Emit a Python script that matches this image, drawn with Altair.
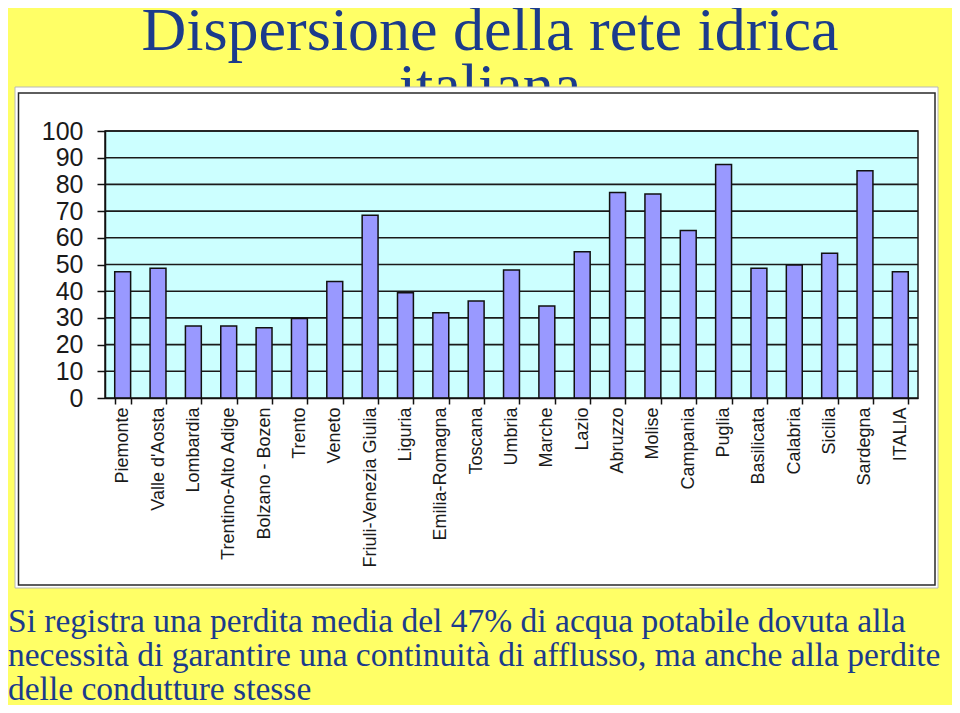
import altair as alt
import pandas as pd

regions = ["Piemonte", "Valle d'Aosta", "Lombardia", "Trentino-Alto Adige",
           "Bolzano - Bozen", "Trento", "Veneto", "Friuli-Venezia Giulia",
           "Liguria", "Emilia-Romagna", "Toscana", "Umbria", "Marche", "Lazio",
           "Abruzzo", "Molise", "Campania", "Puglia", "Basilicata", "Calabria",
           "Sicilia", "Sardegna", "ITALIA"]
values = [47.3, 48.6, 27.0, 27.0, 26.3, 29.8, 43.6, 68.4, 39.4, 31.9, 36.3,
          47.9, 34.5, 54.8, 77.0, 76.4, 62.7, 87.5, 48.6, 49.8, 54.2, 85.1, 47.3]
y_ticks = [0, 10, 20, 30, 40, 50, 60, 70, 80, 90, 100]
grid_values = [10, 20, 30, 40, 50, 60, 70, 80, 90, 100]

title_line1 = "Dispersione della rete idrica"
title_line2 = "italiana"
note_lines = [
    "Si registra una perdita media del 47% di acqua potabile dovuta alla",
    "necessità di garantire una continuità di afflusso, ma anche alla perdite",
    "delle condutture stesse",
]

W, H = 813, 267
NAVY = "#1B3B8C"
SERIF = "Liberation Serif"
SANS = "Liberation Sans"

df = pd.DataFrame({"Regione": regions, "Valore": values})
grid_df = pd.DataFrame({"v": grid_values})
one = pd.DataFrame({"k": [0]})

yscale = alt.Scale(domain=[0, 100], nice=False)


def y_axis():
    return alt.Axis(title=None, values=y_ticks, tickCount=11, labelFont=SANS,
                    labelFontSize=25, labelColor="#1a1a1a", labelPadding=14,
                    tickSize=8, tickColor="#111111", tickWidth=1.5,
                    domainColor="#111111", domainWidth=1.5, grid=False,
                    labelOverlap=False, zindex=1)


# second title line (partly hidden behind the chart panel)
t2 = alt.Chart(one).mark_text(
    text=title_line2, font=SERIF, fontSize=62, color=NAVY,
    align="center", baseline="alphabetic"
).encode(x=alt.value(385), y=alt.value(-25))

t1 = alt.Chart(one).mark_text(
    text=title_line1, font=SERIF, fontSize=62, color=NAVY,
    align="center", baseline="alphabetic"
).encode(x=alt.value(385), y=alt.value(-81))

panel_outer = alt.Chart(one).mark_rect(
    fill="white", stroke="#b8b8b8", strokeWidth=1
).encode(x=alt.value(-90), x2=alt.value(833), y=alt.value(-44), y2=alt.value(457))

panel_inner = alt.Chart(one).mark_rect(
    fill="white", stroke="#2a2a2a", strokeWidth=1.5
).encode(x=alt.value(-86.5), x2=alt.value(830), y=alt.value(-38), y2=alt.value(454))

plot_bg = alt.Chart(one).mark_rect(
    fill="#CCFFFF", stroke="#1a1a1a", strokeWidth=1.5
).encode(
    x=alt.value(0), x2=alt.value(W),
    y=alt.datum(100, scale=yscale, axis=y_axis()), y2=alt.datum(0)
)

grid = alt.Chart(grid_df).mark_rule(color="#1a1a1a", strokeWidth=1.6).encode(
    y=alt.Y("v:Q", scale=yscale, axis=y_axis())
)

bars = alt.Chart(df).mark_bar(
    fill="#9999FF", stroke="#111111", strokeWidth=1.5
).encode(
    x=alt.X("Regione:N", sort=regions,
            scale=alt.Scale(paddingInner=0.55, paddingOuter=0.275),
            axis=alt.Axis(title=None, labelAngle=-90, labelAlign="right",
                          labelBaseline="middle", labelFont=SANS,
                          labelFontSize=18, labelColor="#1a1a1a",
                          labelPadding=3, tickBand="extent", tickSize=6,
                          tickColor="#111111", tickWidth=1.5,
                          domainColor="#111111", domainWidth=1.5,
                          grid=False, labelOverlap=False, zindex=1)),
    y=alt.Y("Valore:Q", scale=yscale, axis=y_axis()),
)

notes = []
for i, line in enumerate(note_lines):
    notes.append(alt.Chart(one).mark_text(
        text=line, font=SERIF, fontSize=33.5, color=NAVY,
        align="left", baseline="alphabetic"
    ).encode(x=alt.value(-97), y=alt.value(501 + 34 * i)))

chart = alt.layer(t2, t1, panel_outer, panel_inner, plot_bg, grid, bars, *notes).properties(
    width=W, height=H,
    autosize=alt.AutoSizeParams(type="none"),
    padding={"left": 97, "top": 123, "right": 34, "bottom": 307},
    background="#FFFF66",
).configure_view(stroke=None)

chart.save("out.html", embed_options={"renderer": "svg", "actions": False})
